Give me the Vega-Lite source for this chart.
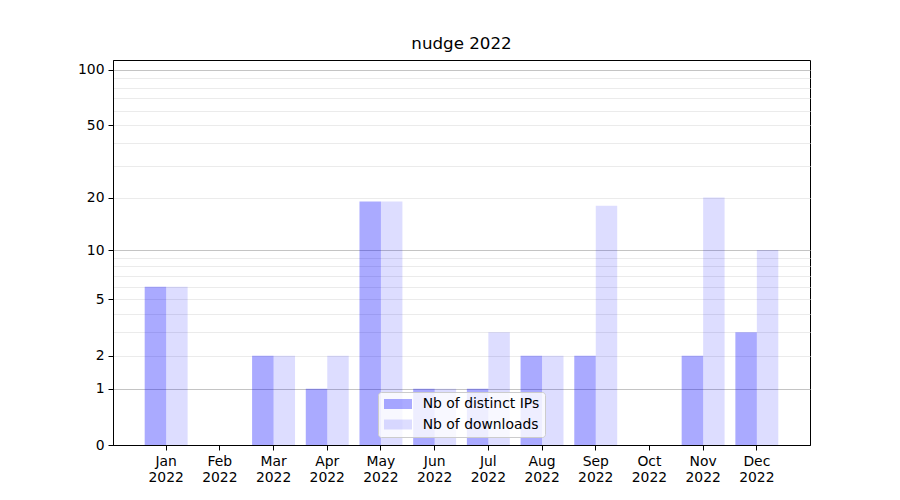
{
  "$schema": "https://vega.github.io/schema/vega-lite/v6.json",
  "width": 697,
  "height": 385,
  "autosize": {"type": "none"},
  "padding": {"left": 113, "top": 60, "right": 90, "bottom": 55},
  "background": "white",
  "title": {"text": "nudge 2022", "fontSize": 16.7, "font": "DejaVu Sans", "fontWeight": "normal", "color": "black", "offset": 7},
  "config": {"view": {"stroke": "black", "strokeWidth": 1}, "font": "DejaVu Sans"},
  "data": {"values": [
    {"month": "Jan 2022", "series": "Nb of distinct IPs", "value": 6},
    {"month": "Jan 2022", "series": "Nb of downloads", "value": 6},
    {"month": "Feb 2022", "series": "Nb of distinct IPs", "value": 0},
    {"month": "Feb 2022", "series": "Nb of downloads", "value": 0},
    {"month": "Mar 2022", "series": "Nb of distinct IPs", "value": 2},
    {"month": "Mar 2022", "series": "Nb of downloads", "value": 2},
    {"month": "Apr 2022", "series": "Nb of distinct IPs", "value": 1},
    {"month": "Apr 2022", "series": "Nb of downloads", "value": 2},
    {"month": "May 2022", "series": "Nb of distinct IPs", "value": 19},
    {"month": "May 2022", "series": "Nb of downloads", "value": 19},
    {"month": "Jun 2022", "series": "Nb of distinct IPs", "value": 1},
    {"month": "Jun 2022", "series": "Nb of downloads", "value": 1},
    {"month": "Jul 2022", "series": "Nb of distinct IPs", "value": 1},
    {"month": "Jul 2022", "series": "Nb of downloads", "value": 3},
    {"month": "Aug 2022", "series": "Nb of distinct IPs", "value": 2},
    {"month": "Aug 2022", "series": "Nb of downloads", "value": 2},
    {"month": "Sep 2022", "series": "Nb of distinct IPs", "value": 2},
    {"month": "Sep 2022", "series": "Nb of downloads", "value": 18},
    {"month": "Oct 2022", "series": "Nb of distinct IPs", "value": 0},
    {"month": "Oct 2022", "series": "Nb of downloads", "value": 0},
    {"month": "Nov 2022", "series": "Nb of distinct IPs", "value": 2},
    {"month": "Nov 2022", "series": "Nb of downloads", "value": 20},
    {"month": "Dec 2022", "series": "Nb of distinct IPs", "value": 3},
    {"month": "Dec 2022", "series": "Nb of downloads", "value": 10}
  ]},
  "mark": {"type": "bar"},
  "encoding": {
    "x": {
      "field": "month", "type": "nominal", "sort": null,
      "scale": {"paddingInner": 0.2, "paddingOuter": 0.59},
      "axis": {
        "title": null, "labelAngle": 0, "labelExpr": "split(datum.value, ' ')",
        "labelFontSize": 13.9, "labelColor": "black", "tickColor": "black", "tickSize": 5,
        "domainColor": "black", "labelPadding": 4, "labelLineHeight": 16, "labelBaseline": "top"
      }
    },
    "xOffset": {
      "field": "series", "type": "nominal", "sort": ["Nb of distinct IPs", "Nb of downloads"],
      "scale": {"paddingInner": 0, "paddingOuter": 0}
    },
    "y": {
      "field": "value", "type": "quantitative",
      "scale": {"type": "symlog", "constant": 1, "domain": [0, 113], "nice": false},
      "axis": {
        "title": null,
        "values": [0, 1, 2, 3, 4, 5, 6, 7, 8, 9, 10, 20, 30, 40, 50, 60, 70, 80, 90, 100],
        "format": "d",
        "labelExpr": "indexof([0,1,2,5,10,20,50,100], datum.value) >= 0 ? datum.label : ''",
        "labelOverlap": false, "labelFlush": false,
        "labelFontSize": 13.9, "labelColor": "black", "labelPadding": 4,
        "tickColor": "black", "tickSize": 5, "domainColor": "black",
        "tickOpacity": {"condition": {"test": "indexof([0,1,2,5,10,20,50,100], datum.value) >= 0", "value": 1}, "value": 0},
        "gridColor": {"condition": {"test": "indexof([1,10,100], datum.value) >= 0", "value": "#c4c4c4"}, "value": "#ebebeb"},
        "gridOpacity": {"condition": {"test": "datum.value == 0", "value": 0}, "value": 1}
      }
    },
    "color": {
      "field": "series", "type": "nominal",
      "scale": {"domain": ["Nb of distinct IPs", "Nb of downloads"], "range": ["#0000ff", "#0000ff"]},
      "legend": {
        "title": null, "orient": "none", "legendX": 265, "legendY": 332,
        "symbolType": "M-2,-0.714H2V0.714H-2Z", "symbolSize": 196, "symbolStrokeWidth": 0,
        "symbolOffset": 8,
        "labelFontSize": 13.9, "labelColor": "black", "labelOffset": 17.7,
        "fillColor": "rgba(255,255,255,0.8)", "strokeColor": "#cccccc", "cornerRadius": 3,
        "padding": 5, "rowPadding": 6.5
      }
    },
    "opacity": {
      "field": "series", "type": "nominal",
      "scale": {"domain": ["Nb of distinct IPs", "Nb of downloads"], "range": [0.333, 0.133]},
      "legend": {
        "title": null, "orient": "none", "legendX": 265, "legendY": 332,
        "symbolType": "M-2,-0.714H2V0.714H-2Z", "symbolSize": 196, "symbolStrokeWidth": 0,
        "symbolOffset": 8,
        "labelFontSize": 13.9, "labelColor": "black", "labelOffset": 17.7,
        "fillColor": "rgba(255,255,255,0.8)", "strokeColor": "#cccccc", "cornerRadius": 3,
        "padding": 5, "rowPadding": 6.5
      }
    }
  }
}
